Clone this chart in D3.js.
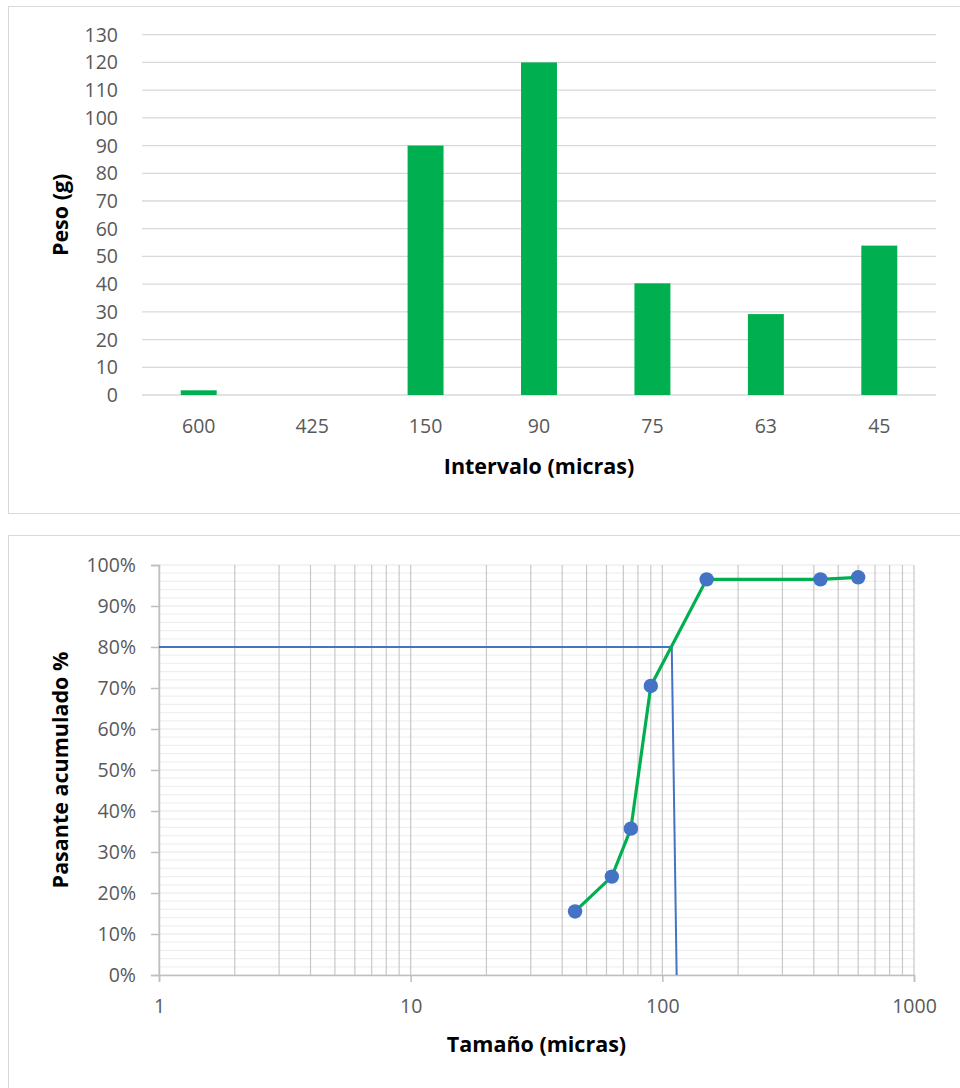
<!DOCTYPE html>
<html>
<head>
<meta charset="utf-8">
<script src="https://cdn.jsdelivr.net/npm/d3@7"></script>
<style>
    body { margin: 0; background: #fff; }
    svg { display: block; font-family: "Open Sans", sans-serif; }
    .tick-label { fill: #595959; font-size: 19.5px; font-family: "Open Sans", sans-serif; }
    .axis-title { fill: #000; font-size: 21.5px; font-weight: bold; font-family: "Open Sans", sans-serif; }
</style>
</head>
<body>
<div id="chart"></div>
<script>
// top chart: weight retained per sieve interval
const intervals = ["600", "425", "150", "90", "75", "63", "45"];
const weights = [1.7, 0, 90, 120, 40.3, 29.2, 53.9];
const weightTicks = d3.range(0, 131, 10);

// bottom chart: cumulative passing vs size
const sizes = [45, 63, 75, 90, 150, 425, 600];
const passing = [15.5, 24.0, 35.7, 70.5, 96.5, 96.5, 97.0];
const d80Sizes = [1, 109, 114];
const d80Values = [80, 80, 0];
const sizeTicks = [1, 10, 100, 1000];
const percentTicks = d3.range(0, 101, 10);

const green = "#00B050";
const blue = "#4472C4";

const svg = d3.select("#chart").append("svg")
    .attr("width", 960)
    .attr("height", 1088);

// chart frames
svg.append("rect").attr("x", 8.5).attr("y", 6.5).attr("width", 970).attr("height", 507)
    .attr("fill", "none").attr("stroke", "#d9d9d9");
svg.append("rect").attr("x", 8.5).attr("y", 535.5).attr("width", 970).attr("height", 600)
    .attr("fill", "none").attr("stroke", "#d9d9d9");

// ---------- bar chart ----------
{
    const m = { left: 142, right: 936, top: 34.7, bottom: 395 };
    const g = svg.append("g");

    const x = d3.scaleBand().domain(intervals).range([m.left, m.right]).paddingInner(0.683).paddingOuter(0.3415);
    const y = d3.scaleLinear().domain([0, 130]).range([m.bottom, m.top]);

    g.selectAll(".grid").data(weightTicks).join("line")
        .attr("x1", m.left).attr("x2", m.right)
        .attr("y1", d => y(d)).attr("y2", d => y(d))
        .attr("stroke", "#d9d9d9").attr("stroke-width", 1.3);

    g.selectAll(".bar").data(intervals).join("rect")
        .attr("x", d => x(d))
        .attr("width", x.bandwidth())
        .attr("y", (d, i) => y(weights[i]))
        .attr("height", (d, i) => y(0) - y(weights[i]))
        .attr("fill", green);

    g.selectAll(".ylab").data(weightTicks).join("text")
        .attr("class", "tick-label")
        .attr("x", 118).attr("y", d => y(d)).attr("dy", "0.36em")
        .attr("text-anchor", "end").text(d => d);

    g.selectAll(".xlab").data(intervals).join("text")
        .attr("class", "tick-label")
        .attr("x", d => x(d) + x.bandwidth() / 2).attr("y", 433)
        .attr("text-anchor", "middle").text(d => d);

    g.append("text").attr("class", "axis-title")
        .attr("x", (m.left + m.right) / 2).attr("y", 474)
        .attr("text-anchor", "middle").text("Intervalo (micras)");

    g.append("text").attr("class", "axis-title")
        .attr("transform", `translate(68,${(m.top + m.bottom) / 2}) rotate(-90)`)
        .attr("text-anchor", "middle").text("Peso (g)");
}

// ---------- cumulative passing chart ----------
{
    const m = { left: 159, right: 914, top: 565, bottom: 975 };
    const g = svg.append("g");

    const x = d3.scaleLog().domain([1, 1000]).range([m.left, m.right]);
    const y = d3.scaleLinear().domain([0, 100]).range([m.bottom, m.top]);

    // minor horizontal grid every 2%
    g.selectAll(".hminor").data(d3.range(0, 101, 2)).join("line")
        .attr("x1", m.left).attr("x2", m.right)
        .attr("y1", d => y(d)).attr("y2", d => y(d))
        .attr("stroke", "#efefef").attr("stroke-width", 1.3);

    // vertical grid at every log step
    const vTicks = x.ticks();
    g.selectAll(".vgrid").data(vTicks).join("line")
        .attr("x1", d => x(d)).attr("x2", d => x(d))
        .attr("y1", m.top).attr("y2", m.bottom)
        .attr("stroke", "#c8c8c8").attr("stroke-width", 1.2);

    // axes
    const yAxis = g.append("g").attr("transform", `translate(${m.left},0)`)
        .call(d3.axisLeft(y).tickValues(percentTicks).tickSize(8).tickFormat(d => d + "%"));
    yAxis.attr("font-size", null).attr("font-family", null);
    yAxis.select(".domain").attr("stroke", "#bfbfbf").attr("stroke-width", 1.5);
    yAxis.selectAll(".tick line").attr("stroke", "#bfbfbf").attr("stroke-width", 1.5);
    yAxis.selectAll("text").attr("class", "tick-label").attr("fill", null).attr("x", -23);

    const xAxis = g.append("g").attr("transform", `translate(0,${m.bottom})`)
        .call(d3.axisBottom(x).tickValues(sizeTicks).tickSize(7).tickFormat(d3.format("d")));
    xAxis.attr("font-size", null).attr("font-family", null);
    xAxis.select(".domain").attr("stroke", "#bfbfbf").attr("stroke-width", 1.5);
    xAxis.selectAll(".tick line").attr("stroke", "#bfbfbf").attr("stroke-width", 1.5);
    xAxis.selectAll("text").attr("class", "tick-label").attr("fill", null).attr("y", 24);

    // d80 guide
    const guide = d80Sizes.map((s, i) => [x(s), y(d80Values[i])]);
    g.append("path").attr("d", d3.line()(guide))
        .attr("fill", "none").attr("stroke", blue).attr("stroke-width", 2);

    // passing curve
    const pts = sizes.map((s, i) => [x(s), y(passing[i])]);
    g.append("path").attr("d", d3.line()(pts))
        .attr("fill", "none").attr("stroke", green).attr("stroke-width", 3.2);

    g.selectAll(".pt").data(pts).join("circle")
        .attr("cx", d => d[0]).attr("cy", d => d[1]).attr("r", 7.2)
        .attr("fill", blue);

    g.append("text").attr("class", "axis-title")
        .attr("x", (m.left + m.right) / 2).attr("y", 1052)
        .attr("text-anchor", "middle").text("Tamaño (micras)");

    g.append("text").attr("class", "axis-title")
        .attr("transform", `translate(68,${(m.top + m.bottom) / 2}) rotate(-90)`)
        .attr("text-anchor", "middle").text("Pasante acumulado %");
}
</script>
</body>
</html>
